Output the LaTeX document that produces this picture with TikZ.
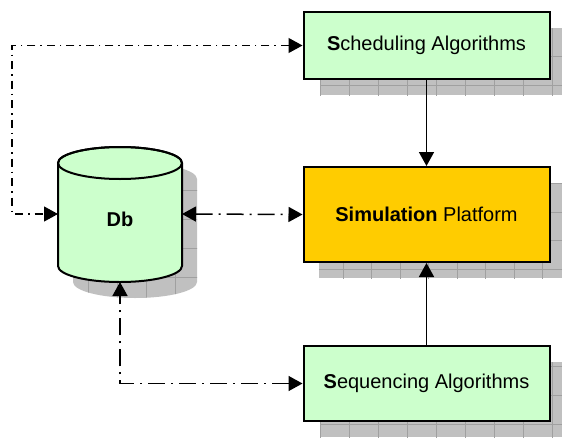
\documentclass[tikz,border=0pt]{standalone}
\usepackage{fontspec}
\setmainfont{Liberation Sans}
\usetikzlibrary{arrows.meta}
\definecolor{boxgreen}{HTML}{CCFFCC}
\definecolor{boxyellow}{HTML}{FFCC00}
\definecolor{shadowgray}{HTML}{C0C0C0}
\definecolor{gridgray}{HTML}{A0A0A0}
\tikzset{
  box/.style={draw=black, line width=2pt, minimum width=246pt, inner sep=0pt,
    font=\fontsize{20}{24}\selectfont},
  shadowfill/.style={fill=shadowgray},
  shadowgrid/.style={draw=gridgray, line width=0.8pt},
  tip/.style={-{Triangle[length=14pt,width=15pt]}},
  bitip/.style={{Triangle[length=14pt,width=15pt]}-{Triangle[length=14pt,width=15pt]}},
  solidarrow/.style={line width=1.6pt, tip},
  dashdotbig/.style={line width=1.5pt, dash pattern=on 17pt off 6pt on 2pt off 6pt, bitip},
  dashdotsmall/.style={line width=1.2pt, dash pattern=on 8pt off 5pt on 1.5pt off 5pt, bitip},
}
\begin{document}
\begin{tikzpicture}[x=1pt,y=1pt]
\useasboundingbox (0,0) rectangle (562,-439);
\clip (0,0) rectangle (562,-439);

% ---- shadows ----
% scheduling shadow
\begin{scope}
  \clip (320,-28) rectangle (566,-95);
  \fill[shadowfill] (320,-28) rectangle (566,-95);
  \begin{scope}[shift={(1,-85)}]
    \draw[shadowgrid, step=29] (-100,-100) grid (600,100);
  \end{scope}
\end{scope}
% simulation shadow
\begin{scope}
  \clip (319,-183) rectangle (566,-278);
  \fill[shadowfill] (319,-183) rectangle (566,-278);
  \begin{scope}[shift={(1,-212)}]
    \draw[shadowgrid, step=28.5] (-100,-100) grid (600,100);
  \end{scope}
\end{scope}
% sequencing shadow
\begin{scope}
  \clip (320,-362) rectangle (566,-437);
  \fill[shadowfill] (320,-362) rectangle (566,-437);
  \begin{scope}[shift={(1,-424)}]
    \draw[shadowgrid, step=29] (-100,-100) grid (600,100);
  \end{scope}
\end{scope}
% db shadow
\begin{scope}
  \clip (73,-179) -- (73,-282) arc[start angle=180, end angle=360, x radius=62, y radius=16]
        -- (197,-179) arc[start angle=0, end angle=180, x radius=62, y radius=16] -- cycle;
  \fill[shadowfill] (0,0) rectangle (300,-320);
  \begin{scope}[shift={(1,-190)}]
    \draw[shadowgrid, step=29] (-100,-200) grid (300,100);
  \end{scope}
\end{scope}

% ---- database cylinder ----
\filldraw[fill=boxgreen, draw=black, line width=2pt]
  (58,-163) -- (58,-266) arc[start angle=180, end angle=360, x radius=62, y radius=16]
  -- (182,-163) arc[start angle=0, end angle=180, x radius=62, y radius=16] -- cycle;
\draw[line width=2pt] (120,-163) ellipse[x radius=62, y radius=16];
\node[font=\fontsize{20}{24}\selectfont\bfseries] (db) at (120,-219) {Db};
\coordinate (dbL) at (58,-214);
\coordinate (dbR) at (182,-214);
\coordinate (dbB) at (120,-282);
\coordinate (cTop) at (12,-214);

% ---- boxes ----
\node[box, fill=boxgreen, minimum height=67pt] (sched) at (426.5,-45.5)
  {\textbf{S}cheduling Algorithms};
\node[box, fill=boxyellow, minimum height=95pt] (sim) at (426.5,-214.5)
  {\textbf{Simulation} Platform};
\node[box, fill=boxgreen, minimum height=75pt] (seq) at (426.5,-383.5)
  {\textbf{S}equencing Algorithms};

% ---- connectors ----
\draw[solidarrow] (sched.south) -- (sim.north);
\draw[solidarrow] (seq.north) -- (sim.south);
\draw[dashdotsmall] (sched.west) -| (cTop) -- (dbL);
\draw[dashdotbig] (dbR) -- (sim.west);
\draw[dashdotbig] (seq.west) -| (dbB);
\end{tikzpicture}
\end{document}
